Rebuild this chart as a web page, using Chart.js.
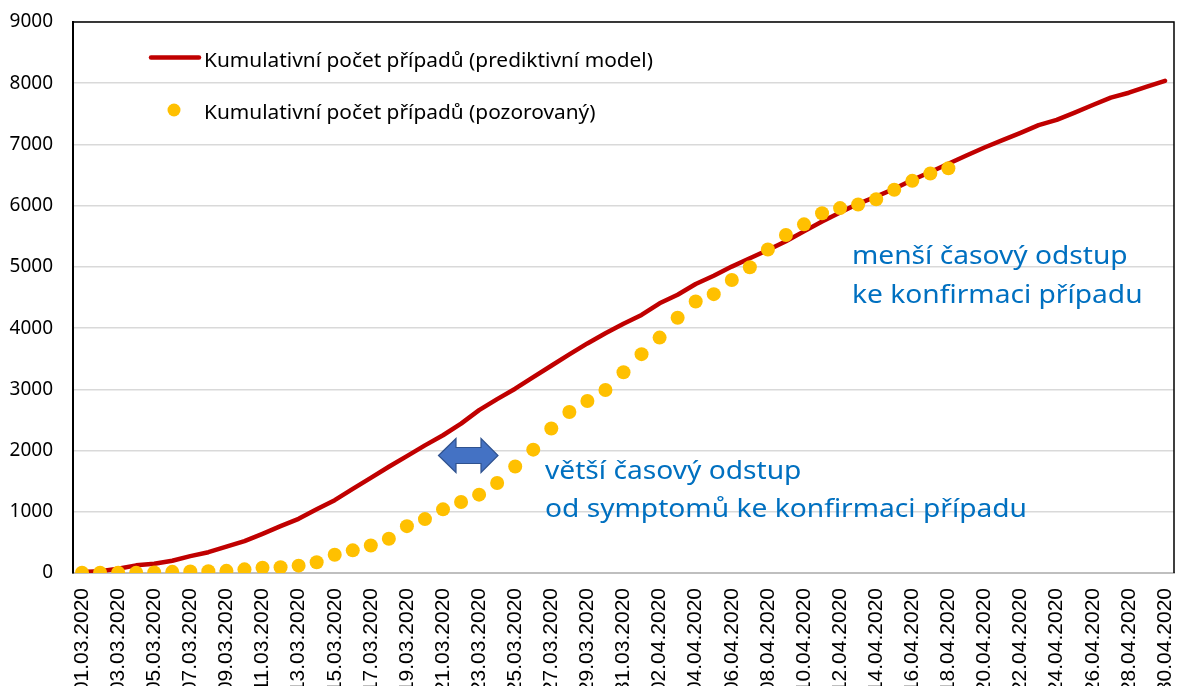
<!DOCTYPE html>
<html>
<head>
<meta charset="utf-8">
<script src="https://cdn.jsdelivr.net/npm/chart.js@4.4.1/dist/chart.umd.min.js"></script>
<style>
  html, body { margin: 0; padding: 0; background: #ffffff; }
  #wrap { width: 1181px; height: 686px; position: relative; overflow: hidden; }
</style>
</head>
<body>
<div id="wrap"><canvas id="c" width="1181" height="686"></canvas></div>
<script>
// ---- data ----
const dates = [
  "01.03.2020","02.03.2020","03.03.2020","04.03.2020","05.03.2020","06.03.2020","07.03.2020","08.03.2020",
  "09.03.2020","10.03.2020","11.03.2020","12.03.2020","13.03.2020","14.03.2020","15.03.2020","16.03.2020",
  "17.03.2020","18.03.2020","19.03.2020","20.03.2020","21.03.2020","22.03.2020","23.03.2020","24.03.2020",
  "25.03.2020","26.03.2020","27.03.2020","28.03.2020","29.03.2020","30.03.2020","31.03.2020",
  "01.04.2020","02.04.2020","03.04.2020","04.04.2020","05.04.2020","06.04.2020","07.04.2020","08.04.2020",
  "09.04.2020","10.04.2020","11.04.2020","12.04.2020","13.04.2020","14.04.2020","15.04.2020","16.04.2020",
  "17.04.2020","18.04.2020","19.04.2020","20.04.2020","21.04.2020","22.04.2020","23.04.2020","24.04.2020",
  "25.04.2020","26.04.2020","27.04.2020","28.04.2020","29.04.2020","30.04.2020"
];
const modelValues = [
  15, 30, 70, 125, 150, 200, 275, 340, 430, 520,
  640, 765, 885, 1040, 1190, 1375, 1555, 1735, 1910, 2085,
  2250, 2440, 2660, 2840, 3010, 3200, 3385, 3570, 3750, 3915,
  4070, 4215, 4405, 4545, 4720, 4855, 5005, 5140, 5275, 5420,
  5580, 5740, 5890, 6030, 6150, 6275, 6420, 6550, 6685, 6820,
  6950, 7070, 7190, 7315, 7400, 7520, 7645, 7765, 7845, 7945,
  8040
];
const observedValues = [
  3, 3, 5, 5, 8, 19, 26, 30, 35, 60,
  85, 95, 120, 175, 298, 370, 450, 560, 765, 880,
  1040, 1160, 1280, 1470, 1740, 2015, 2360, 2630, 2810, 2990,
  3280, 3575, 3845, 4170, 4435, 4555, 4785, 4995, 5285, 5520,
  5695, 5875, 5960, 6020, 6105, 6260, 6405, 6525, 6610
];
const yTickValues = [0, 1000, 2000, 3000, 4000, 5000, 6000, 7000, 8000, 9000];
const seriesNames = [
  "Kumulativní počet případů (prediktivní model)",
  "Kumulativní počet případů (pozorovaný)"
];
const noteLarger = ["větší časový odstup", "od symptomů ke konfirmaci případu"];
const noteSmaller = ["menší časový odstup", "ke konfirmaci případu"];

const RED = "#C00000", GOLD = "#FFC000", NOTE_BLUE = "#0070C0";

// draw text stretched horizontally to a target width (reference text is wide)
function stretchedText(ctx, text, x, y, sx) {
  ctx.save();
  ctx.translate(x, y);
  ctx.scale(sx, 1);
  ctx.fillText(text, 0, 0);
  ctx.restore();
}

const framePlugin = {
  id: "frame",
  afterDraw(chart) {
    const { ctx, chartArea: { left, top, right, bottom } } = chart;
    ctx.save();
    ctx.strokeStyle = "#000";
    ctx.lineWidth = 1.5;
    ctx.beginPath();
    ctx.moveTo(left, top);
    ctx.lineTo(right, top);
    ctx.lineTo(right, bottom);
    ctx.stroke();
    ctx.restore();
  }
};

const legendPlugin = {
  id: "insideLegend",
  afterDraw(chart) {
    const ctx = chart.ctx;
    ctx.save();
    ctx.font = "19px 'Noto Sans'";
    ctx.fillStyle = "#000";
    ctx.textBaseline = "alphabetic";
    const sx = 449 / ctx.measureText(seriesNames[0]).width;
    // row 1: line sample
    ctx.strokeStyle = RED;
    ctx.lineWidth = 4.5;
    ctx.lineCap = "round";
    ctx.beginPath();
    ctx.moveTo(151, 57.5);
    ctx.lineTo(199, 57.5);
    ctx.stroke();
    stretchedText(ctx, seriesNames[0], 204, 66.5, sx);
    // row 2: dot sample
    ctx.fillStyle = GOLD;
    ctx.beginPath();
    ctx.arc(174, 110, 6.5, 0, Math.PI * 2);
    ctx.fill();
    ctx.fillStyle = "#000";
    stretchedText(ctx, seriesNames[1], 204, 118.5, sx);
    ctx.restore();
  }
};

const notesPlugin = {
  id: "notes",
  afterDraw(chart) {
    const ctx = chart.ctx;
    ctx.save();
    // double arrow
    const cy = 455.5;
    ctx.beginPath();
    ctx.moveTo(438.5, cy);
    ctx.lineTo(456, 438.5);
    ctx.lineTo(456, 447.5);
    ctx.lineTo(481, 447.5);
    ctx.lineTo(481, 438.5);
    ctx.lineTo(498, cy);
    ctx.lineTo(481, 472.5);
    ctx.lineTo(481, 463.5);
    ctx.lineTo(456, 463.5);
    ctx.lineTo(456, 472.5);
    ctx.closePath();
    ctx.fillStyle = "#4472C4";
    ctx.fill();
    ctx.strokeStyle = "#2F528F";
    ctx.lineWidth = 1.2;
    ctx.stroke();

    // annotation texts
    ctx.font = "26px 'Noto Sans'";
    ctx.fillStyle = NOTE_BLUE;
    ctx.textBaseline = "alphabetic";
    const sx = 482 / ctx.measureText(noteLarger[1]).width;
    stretchedText(ctx, noteLarger[0], 545, 478.5, sx);
    stretchedText(ctx, noteLarger[1], 545, 516.5, sx);
    stretchedText(ctx, noteSmaller[0], 852, 263.5, sx);
    stretchedText(ctx, noteSmaller[1], 852, 302.5, sx);
    ctx.restore();
  }
};

new Chart(document.getElementById("c").getContext("2d"), {
  type: "line",
  data: {
    labels: dates,
    datasets: [
      {
        label: seriesNames[0],
        data: modelValues,
        borderColor: RED,
        backgroundColor: RED,
        borderWidth: 4.5,
        pointRadius: 0,
        tension: 0,
        borderCapStyle: "round",
        borderJoinStyle: "round",
        order: 2
      },
      {
        label: seriesNames[1],
        data: observedValues,
        showLine: false,
        pointRadius: 7,
        pointBackgroundColor: GOLD,
        pointBorderColor: GOLD,
        pointBorderWidth: 0,
        borderColor: GOLD,
        backgroundColor: GOLD,
        order: 1
      }
    ]
  },
  options: {
    responsive: false,
    animation: false,
    events: [],
    layout: { padding: { top: 22, right: 4, left: 0, bottom: 0 } },
    plugins: { legend: { display: false }, tooltip: { enabled: false } },
    scales: {
      x: {
        type: "category",
        offset: true,
        grid: { display: false, drawTicks: false },
        border: { display: true, color: "#BFBFBF", width: 2 },
        ticks: {
          autoSkip: false,
          minRotation: 90,
          maxRotation: 90,
          padding: 15,
          color: "#000",
          font: { family: "'Liberation Sans'", size: 21 },
          callback: (v, i) => (i % 2 === 0 ? dates[i] : "")
        },
        afterFit: (s) => {
          s.height = 113;
          s.paddingLeft = 0; s.paddingRight = 0; s.paddingTop = 0; s.paddingBottom = 0;
        }
      },
      y: {
        min: 0,
        max: 9000,
        afterBuildTicks: (s) => { s.ticks = yTickValues.map(v => ({ value: v })); },
        ticks: {
          padding: 20,
          color: "#000",
          font: { family: "'Noto Sans'", size: 19 },
          callback: (v) => String(v)
        },
        grid: { color: "#D9D9D9", lineWidth: 1.5, drawTicks: false },
        border: { display: true, color: "#000", width: 2 },
        afterFit: (s) => {
          s.width = 73;
          s.paddingLeft = 0; s.paddingRight = 0; s.paddingTop = 0; s.paddingBottom = 0;
        }
      }
    }
  },
  plugins: [framePlugin, legendPlugin, notesPlugin]
});
</script>
</body>
</html>
